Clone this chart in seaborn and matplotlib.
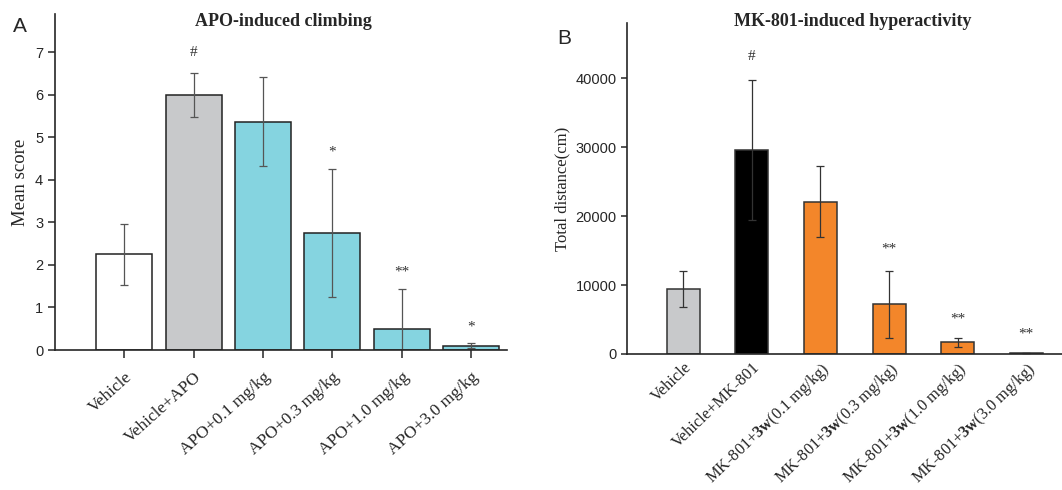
import matplotlib
matplotlib.use('Agg')
import matplotlib.pyplot as plt
import seaborn as sns
import numpy as np
import pandas as pd

# Panel A data
apo_groups = ['Vehicle', 'Vehicle+APO', 'APO+0.1 mg/kg', 'APO+0.3 mg/kg',
              'APO+1.0 mg/kg', 'APO+3.0 mg/kg']
apo_mean = [2.25, 6.0, 5.37, 2.75, 0.5, 0.1]
apo_err = [0.72, 0.51, 1.05, 1.5, 0.93, 0.06]
apo_marks = ['', '#', '', '*', '**', '*']
apo_mark_y = [0, 6.85, 0, 4.5, 1.68, 0.38]

# Panel B data
mk_groups = ['Vehicle', 'Vehicle+MK-801',
             r'MK-801+$\mathbf{3w}$(0.1 mg/kg)', r'MK-801+$\mathbf{3w}$(0.3 mg/kg)',
             r'MK-801+$\mathbf{3w}$(1.0 mg/kg)', r'MK-801+$\mathbf{3w}$(3.0 mg/kg)']
mk_mean = [9450, 29600, 22050, 7200, 1700, 150]
mk_err = [2650, 10200, 5150, 4900, 620, 60]
mk_marks = ['', '#', '', '**', '**', '**']
mk_mark_y = [0, 42200, 0, 14300, 4100, 2000]

sns.set_style('ticks')
plt.rcParams['font.family'] = ['Liberation Sans', 'DejaVu Sans']
plt.rcParams['mathtext.fontset'] = 'custom'
plt.rcParams['mathtext.rm'] = 'Liberation Serif'
plt.rcParams['mathtext.bf'] = 'Liberation Serif:bold'
plt.rcParams['axes.linewidth'] = 1.2
serif = ['Liberation Serif', 'DejaVu Serif']

fig = plt.figure(figsize=(10.62, 4.9), dpi=100)
axA = fig.add_axes([0.0518, 0.2857, 0.4256, 0.6857])
axB = fig.add_axes([0.5904, 0.2776, 0.4096, 0.6755])

# ---- A ----
dfA = pd.DataFrame({'group': apo_groups, 'score': apo_mean})
colorsA = ['#ffffff', '#c8c9cb', '#85d4e0', '#85d4e0', '#85d4e0', '#85d4e0']
sns.barplot(data=dfA, x='group', y='score', hue='group', palette=colorsA,
            saturation=1, legend=False, width=0.81, edgecolor='#222222',
            linewidth=1.1, ax=axA)
xa = np.arange(len(apo_groups))
axA.errorbar(xa, apo_mean, yerr=apo_err, fmt='none', ecolor='#555555',
             elinewidth=0.9, capsize=3, capthick=0.9)
for i in range(len(xa)):
    if apo_marks[i]:
        axA.text(xa[i], apo_mark_y[i], apo_marks[i], ha='center', va='bottom',
                 fontsize=11, color='#333333', family=serif)
axA.set_xlim(-1.0, 5.52)
axA.set_ylim(0, 7.9)
axA.set_yticks(range(0, 8))
axA.set_xlabel('')
axA.set_ylabel('Mean score', family=serif, fontsize=13.5)
axA.set_xticks(xa)
axA.set_xticklabels(apo_groups, rotation=42, ha='right', rotation_mode='anchor',
                    family=serif, fontsize=12.5)
axA.tick_params(axis='y', labelsize=10.5, length=5, width=1.1)
axA.tick_params(axis='x', length=6, width=1.1, pad=8)
sns.despine(ax=axA)
fig.text(283 / 1062, 1 - 22 / 490, 'APO-induced climbing', family=serif,
         fontweight='bold', fontsize=13, ha='center', va='center')
fig.text(0.012, 0.945, 'A', fontsize=15, ha='left', va='center')

# ---- B ----
dfB = pd.DataFrame({'group': mk_groups, 'dist': mk_mean})
colorsB = ['#c8c9cb', '#000000', '#f3862a', '#f3862a', '#f3862a', '#f3862a']
sns.barplot(data=dfB, x='group', y='dist', hue='group', palette=colorsB,
            saturation=1, legend=False, width=0.48, edgecolor='#333333',
            linewidth=1.1, ax=axB)
xb = np.arange(len(mk_groups))
axB.errorbar(xb, mk_mean, yerr=mk_err, fmt='none', ecolor='#333333',
             elinewidth=0.9, capsize=3, capthick=0.9)
for i in range(len(xb)):
    if mk_marks[i]:
        axB.text(xb[i], mk_mark_y[i], mk_marks[i], ha='center', va='bottom',
                 fontsize=11, color='#333333', family=serif)
axB.set_xlim(-0.82, 5.52)
axB.set_ylim(0, 48000)
axB.set_yticks([0, 10000, 20000, 30000, 40000])
axB.set_xlabel('')
axB.set_ylabel('Total distance(cm)', family=serif, fontsize=12)
axB.set_xticks(xb)
axB.set_xticklabels(mk_groups, rotation=44, ha='right', rotation_mode='anchor',
                    family=serif, fontsize=11.8)
axB.tick_params(axis='y', labelsize=10.5, length=4, width=1.1)
axB.tick_params(axis='x', length=0, pad=4)
sns.despine(ax=axB)
fig.text(853 / 1062, 1 - 22 / 490, 'MK-801-induced hyperactivity', family=serif,
         fontweight='bold', fontsize=13, ha='center', va='center')
fig.text(0.525, 0.922, 'B', fontsize=15, ha='left', va='center')

fig.savefig('out.png', dpi=100)
